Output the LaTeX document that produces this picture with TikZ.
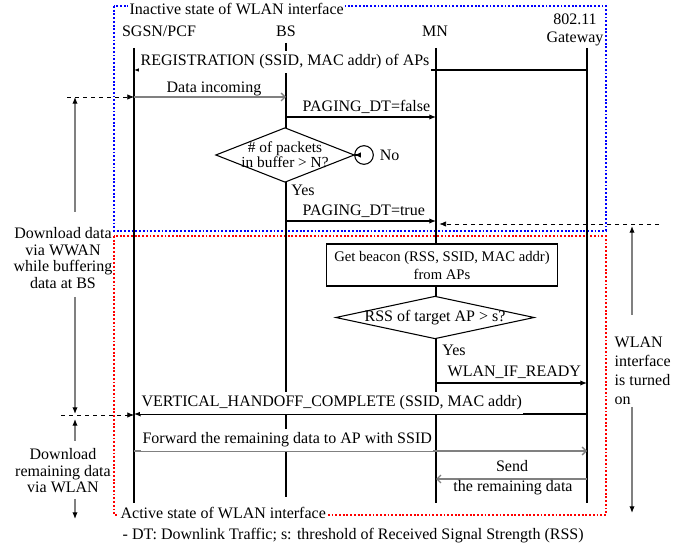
\documentclass[tikz,border=0pt]{standalone}
\usepackage{fontspec}
\setmainfont{Liberation Serif}
\usetikzlibrary{arrows.meta,shapes.geometric,positioning}

\begin{document}
\begin{tikzpicture}[x=0.75pt,y=-0.75pt,font=\fontsize{12}{13}\selectfont,
  life/.style={line width=1.4pt},
  msg/.style={->,>={Latex[length=5pt,width=4pt]},line width=0.9pt},
  bulk/.style={->,>={Straight Barb[length=3pt,width=6pt,line width=1pt]},draw=gray,line width=1.8pt},
  extent/.style={->,>={Latex[length=5pt,width=4pt,color=black]},draw=gray,line width=0.9pt},
  guide/.style={->,>={Latex[length=5pt,width=4pt]},dashed,line width=0.5pt},
  lbl/.style={fill=white,inner xsep=1pt,inner ysep=3pt},
  zone/.style={dash pattern=on 1.4pt off 1.4pt,line width=1.4pt},
  dia/.style={draw,diamond,fill=white,inner sep=0pt,line width=0.8pt},
]
  \useasboundingbox (0,0) rectangle (689,548);

  % state boxes
  \draw[zone,blue] (114,6) rectangle (606,231);
  \draw[zone,red] (114,236) rectangle (606,515);
  \node[lbl,anchor=base west] (inact) at (128,15) {Inactive state of WLAN interface};
  \node[lbl,anchor=base west] (act) at (119,518) {Active state of WLAN interface};

  % lifelines
  \foreach \i/\x/\t/\b in {1/134/48/503,2/286/43/497,3/436/48/503,4/587/48/503} {
    \coordinate (l\i) at (\x,\t);
    \draw[life] (l\i) -- (\x,\b);
  }
  \node[anchor=base] (h1) at (159,37) {SGSN/PCF};
  \node[anchor=base] (h2) at (286,37) {BS};
  \node[anchor=base] (h3) at (435,37) {MN};
  \node[align=center,font=\fontsize{12}{14}\selectfont] (h4) at (575,30) {802.11\\Gateway};

  % messages
  \draw[msg] (l4 |- 0,70) -- (l1 |- 0,70);
  \node[lbl,anchor=base west] (reg) at (139,66) {REGISTRATION (SSID, MAC addr) of APs};
  \draw[bulk] (l1 |- 0,97) -- (l2 |- 0,97);
  \node[anchor=base] (din) at (214,93) {Data incoming};
  \draw[msg] (l2 |- 0,117) -- (l3 |- 0,117);
  \node[anchor=base west] (pgf) at (298,112) {PAGING\_DT=false};

  \node[dia,minimum width=104pt,minimum height=41pt] (pkt) at (285,155) {};
  \node[align=center,font=\fontsize{11.5}{10.5}\selectfont] (pkttxt) at (pkt) {\# of packets\\in buffer > N?};
  \node[draw,circle,minimum size=14pt,inner sep=0pt,line width=0.8pt] (noc) at (364,155) {};
  \draw[msg] (pkt.east) -- (noc.west);
  \node[right=1pt of noc] (no) {No};
  \node[anchor=base] (yes1) at (303,196) {Yes};

  \draw[msg] (l2 |- 0,221) -- (l3 |- 0,221);
  \node[anchor=base west] (pgt) at (298,216) {PAGING\_DT=true};

  \node[draw,fill=white,align=center,minimum width=173pt,minimum height=31.5pt,
    inner xsep=2pt,line width=0.8pt,font=\fontsize{11}{13.5}\selectfont] (bcn) at (442,265)
    {Get beacon (RSS, SSID, MAC addr)\\from APs};
  \node[dia,minimum width=149pt,minimum height=32pt] (rss) at (435,317.5) {};
  \node (rsstxt) at (rss) {RSS of target AP > s?};
  \node[anchor=base] (yes2) at (454,356) {Yes};

  \draw[msg] (l3 |- 0,383) -- (l4 |- 0,383);
  \node[anchor=base west] (rdy) at (443,377) {WLAN\_IF\_READY};
  \draw[msg] (l4 |- 0,414) -- (l1 |- 0,414);
  \node[lbl,anchor=base west] (vho) at (140,407) {VERTICAL\_HANDOFF\_COMPLETE (SSID, MAC addr)};
  \draw[bulk] (l1 |- 0,451) -- (l4 |- 0,451);
  \node[lbl,anchor=base west] (fwd) at (141,444) {Forward the remaining data to AP with SSID};
  \draw[bulk] (l4 |- 0,479) -- (l3 |- 0,479);
  \node[anchor=base] (snd) at (512,472) {Send};
  \node[anchor=base] (rem) at (513,492) {the remaining data};

  % download periods, left
  \coordinate (gl1) at (67,97);
  \coordinate (gl2) at (61,415);
  \draw[guide] (gl1) -- (l1 |- gl1);
  \draw[guide] (gl2) -- (l1 |- gl2);
  \node[align=center,font=\fontsize{12}{12.4}\selectfont] (wwan) at (63,258)
    {Download data\\via WWAN\\while buffering\\data at BS};
  \node[align=center,font=\fontsize{12}{12.4}\selectfont] (wlan) at (63,471)
    {Download\\remaining data\\via WLAN};
  \coordinate (a1) at (75,212);
  \coordinate (a2) at (75,297);
  \coordinate (a3) at (75,441);
  \coordinate (a4) at (75,499);
  \draw[extent] (a1) -- (a1 |- gl1);
  \draw[extent] (a2) -- ([yshift=0.75pt]a2 |- gl2);
  \draw[extent] (a3) -- ([yshift=-3pt]a3 |- gl2);
  \draw[extent] (a4) -- (75,519);

  % interface turned on, right
  \coordinate (gr) at (659,224);
  \draw[guide,shorten >=2.5pt] (gr) -- (l3 |- gr);
  \node[align=left,anchor=west,font=\fontsize{12}{14.3}\selectfont] (on) at (610,371)
    {WLAN\\interface\\is turned\\on};
  \coordinate (b1) at (632,315);
  \coordinate (b2) at (632,407);
  \draw[extent] (b1) -- ([yshift=-1.5pt]b1 |- gr);
  \draw[extent] (b2) -- (632,513);

  \node[anchor=base west] (note) at (118,540)
    {- DT: Downlink Traffic; s: threshold of Received Signal Strength (RSS)};
\end{tikzpicture}
\end{document}
